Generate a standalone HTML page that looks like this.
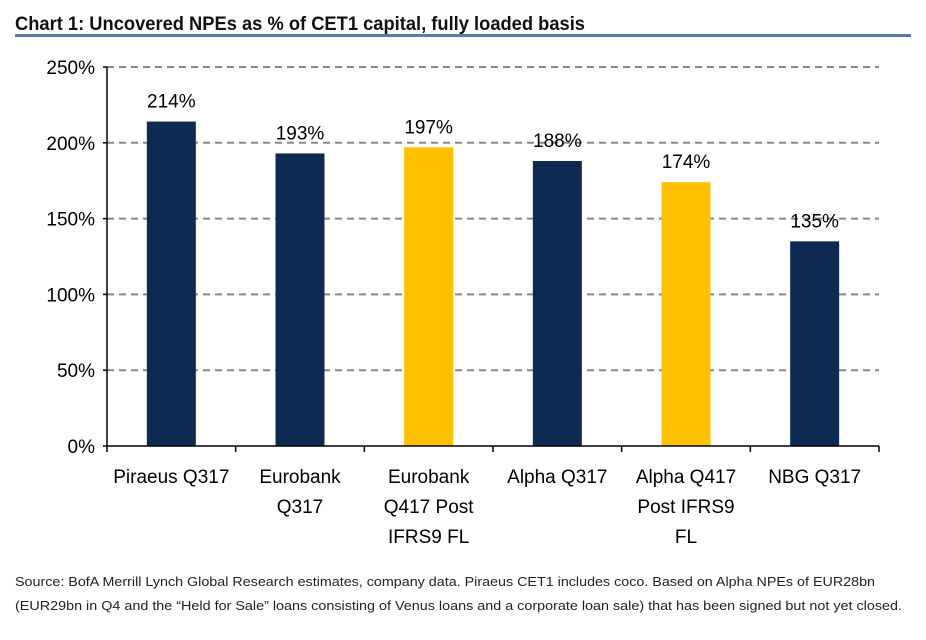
<!DOCTYPE html>
<html><head><meta charset="utf-8"><style>
body{margin:0;background:#fff;}
svg{display:block;font-family:"Liberation Sans",Arial,sans-serif;}
</style></head><body>
<svg id="chart" width="926" height="640" viewBox="0 0 926 640" xmlns="http://www.w3.org/2000/svg">
<text x="15" y="30" font-size="19" font-weight="bold" fill="#111" textLength="570" lengthAdjust="spacingAndGlyphs">Chart 1: Uncovered NPEs as % of CET1 capital, fully loaded basis</text>
<rect x="15" y="34" width="896" height="3" fill="#5a7aa6"/>
<g id="grid"></g><g id="bars"></g><g id="axes"></g>
<text x="15" y="586" font-size="13" fill="#222" textLength="860" lengthAdjust="spacingAndGlyphs">Source:  BofA Merrill Lynch Global Research estimates, company  data. Piraeus CET1  includes  coco.  Based on Alpha NPEs of EUR28bn</text>
<text x="15" y="610" font-size="13" fill="#222" textLength="887" lengthAdjust="spacingAndGlyphs">(EUR29bn  in Q4 and the “Held for Sale” loans consisting  of Venus  loans and a corporate loan sale) that has been signed  but not yet closed.</text>
</svg>
<script>
const categories=[["Piraeus Q317"],["Eurobank","Q317"],["Eurobank","Q417 Post","IFRS9 FL"],["Alpha Q317"],["Alpha Q417","Post IFRS9","FL"],["NBG Q317"]];
const values=[214,193,197,188,174,135];
const colorsIdx=[0,0,1,0,1,0];
const yTicks=[0,50,100,150,200,250];
const NS="http://www.w3.org/2000/svg";
const x0=107,x1=879,yb=446,yt=67,ymax=250;
const y=v=>yb-(v/ymax)*(yb-yt);
const bw=(x1-x0)/categories.length;
const xc=i=>x0+bw*(i+0.5);
const pal=["#0f2a52","#ffc000"];
function mk(t,a,p){const e=document.createElementNS(NS,t);for(const k in a)e.setAttribute(k,a[k]);p.appendChild(e);return e;}
const G=document.getElementById("grid"),B=document.getElementById("bars"),A=document.getElementById("axes");
yTicks.forEach(t=>{
 if(t>0){const l=mk("line",{x1:x0,x2:x1,y1:y(t),y2:y(t),stroke:"#888","stroke-width":2,"stroke-dasharray":"7,5"},G);
 
 }
 const tk=mk("line",{x1:x0-4,x2:x0,y1:y(t),y2:y(t),stroke:"#000","stroke-width":1.5},A);
 
 
 const tx=mk("text",{x:x0-12,y:y(t)+7,"text-anchor":"end","font-size":19,fill:"#000"},A);
 tx.textContent=t+"%";
 
 
});
values.forEach((v,i)=>{
 const r=mk("rect",{x:xc(i)-24.5,y:y(v),width:49,height:yb-y(v),fill:pal[colorsIdx[i]]},B);
 
 
 const lb=mk("text",{x:xc(i),y:y(v)-14,"text-anchor":"middle","font-size":19,fill:"#000"},B);
 lb.textContent=v+"%";
 
 
 categories[i].forEach((s,j)=>{
  const c=mk("text",{x:xc(i),y:483+j*30,"text-anchor":"middle","font-size":19,fill:"#000"},A);
  c.textContent=s;
  
  
 });
});
for(let i=0;i<=categories.length;i++){
 const t=mk("line",{x1:x0+bw*i,x2:x0+bw*i,y1:yb,y2:yb+6,stroke:"#000","stroke-width":1.5},A);
 
 
}
const ya=mk("line",{x1:x0,x2:x0,y1:yt,y2:yb,stroke:"#000","stroke-width":1.5},A);


const xa=mk("line",{x1:x0,x2:x1,y1:yb,y2:yb,stroke:"#000","stroke-width":1.5},A);


</script>
</body></html>
